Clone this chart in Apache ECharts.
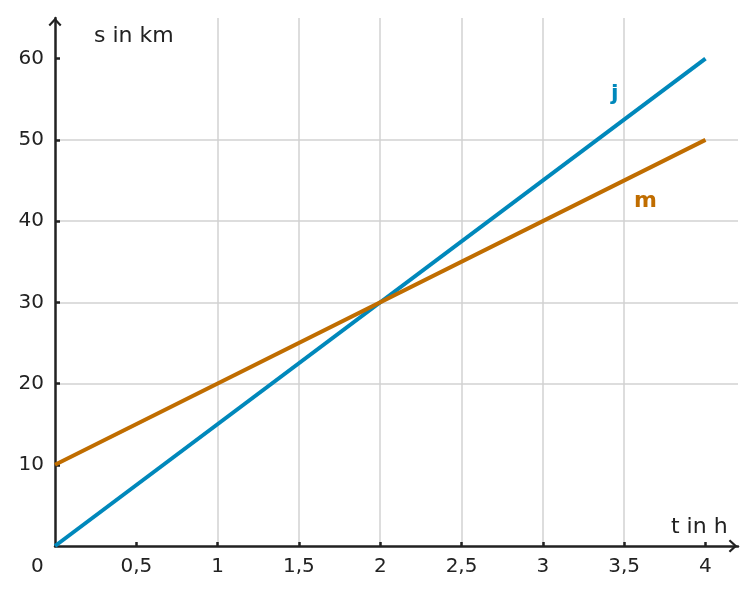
<!DOCTYPE html>
<html>
<head>
<meta charset="utf-8">
<script src="https://cdn.jsdelivr.net/npm/echarts@6/dist/echarts.min.js"></script>
<style>
  html, body { margin: 0; padding: 0; background: #fff; }
  #chart { width: 756px; height: 595px; }
</style>
</head>
<body>
<div id="chart"></div>
<script>
// times in h
var times = [0, 4];
// distance of j and m in km
var jValues = [0, 60];
var mValues = [10, 50];
// tick labels
var xTicks = [0.5, 1, 1.5, 2, 2.5, 3, 3.5, 4];
var yTicks = [10, 20, 30, 40, 50, 60];

var textColor = '#222';
var font = 'DejaVu Sans';
var chevron = 'path://M6,0 L12,6.6 L10.6,8 L6,3 L1.4,8 L0,6.6 Z';

var dom = document.getElementById('chart');
var myChart = echarts.init(dom);

function pairs(xs, ys) {
    return xs.map(function (x, i) { return [x, ys[i]]; });
}

var option = {
    animation: false,
    grid: { left: 55, right: 18, top: 18, bottom: 49 },
    xAxis: {
        type: 'value',
        min: 0,
        max: 4.2,
        interval: 0.5,
        axisLine: {
            lineStyle: { color: textColor, width: 2.5 },
            symbol: ['none', chevron],
            symbolSize: [13, 9],
            symbolOffset: [0, -5]
        },
        axisTick: {
            inside: true, length: 4, customValues: xTicks,
            lineStyle: { color: textColor, width: 2.5 }
        },
        axisLabel: {
            customValues: xTicks,
            margin: 11,
            color: textColor,
            fontFamily: font,
            fontSize: 20,
            formatter: function (v) { return String(v).replace('.', ','); }
        },
        splitLine: {
            show: true, showMinLine: false, showMaxLine: false,
            lineStyle: { color: '#d2d2d2', width: 1.5 }
        }
    },
    yAxis: {
        type: 'value',
        min: 0,
        max: 65,
        interval: 10,
        axisLine: {
            show: true,
            lineStyle: { color: textColor, width: 2.5 },
            symbol: ['none', chevron],
            symbolSize: [13, 9],
            symbolOffset: [0, -4]
        },
        axisTick: {
            show: true, inside: true, length: 5, customValues: yTicks,
            lineStyle: { color: textColor, width: 2.5 }
        },
        axisLabel: {
            customValues: yTicks,
            margin: 11,
            color: textColor,
            fontFamily: font,
            fontSize: 20
        },
        splitLine: {
            show: true, showMinLine: false, showMaxLine: false,
            lineStyle: { color: '#d2d2d2', width: 1.5 }
        }
    },
    graphic: [
        { type: 'text', left: 94, top: 25, style: { text: 's in km', fill: textColor, font: '22px "DejaVu Sans"' } },
        { type: 'text', left: 671, top: 516, style: { text: 't in h', fill: textColor, font: '22px "DejaVu Sans"' } },
        { type: 'text', left: 31, top: 557, style: { text: '0', fill: textColor, font: '20px "DejaVu Sans"' } },
        { type: 'text', left: 611, top: 83, style: { text: 'j', fill: '#0088bb', font: 'bold 22px "DejaVu Sans"' } },
        { type: 'text', left: 634, top: 190, style: { text: 'm', fill: '#c06d00', font: 'bold 22px "DejaVu Sans"' } }
    ],
    series: [
        {
            name: 'j',
            type: 'line',
            data: pairs(times, jValues),
            symbol: 'none',
            lineStyle: { color: '#0088bb', width: 4 },
            z: 3
        },
        {
            name: 'm',
            type: 'line',
            data: pairs(times, mValues),
            symbol: 'none',
            lineStyle: { color: '#c06d00', width: 4 },
            z: 4
        }
    ]
};

myChart.setOption(option, true);
</script>
</body>
</html>
